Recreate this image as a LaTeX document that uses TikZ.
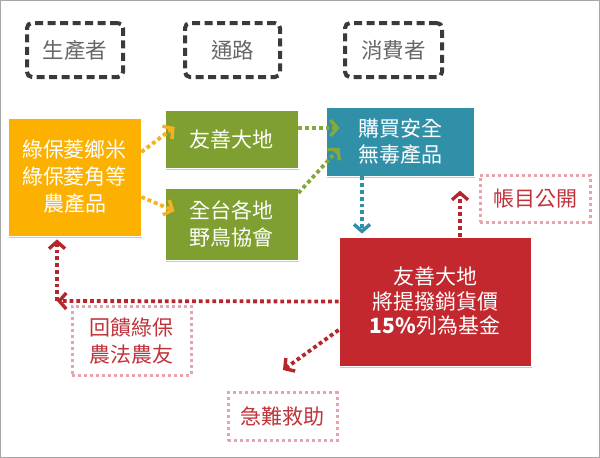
\documentclass[tikz,border=0pt]{standalone}
\usepackage{fontspec}
\setmainfont{Noto Sans CJK TC}
\usetikzlibrary{arrows.meta,shadows,calc}
\definecolor{orangebox}{HTML}{FCB000}
\definecolor{greenbox}{HTML}{7FA031}
\definecolor{bluebox}{HTML}{3090A8}
\definecolor{redbox}{HTML}{C2282E}
\definecolor{pinkline}{HTML}{E8A3AC}
\definecolor{pinktext}{HTML}{C0333A}
\definecolor{redarrow}{HTML}{B5272D}
\definecolor{headline}{HTML}{3A3A3A}
\definecolor{headtext}{HTML}{666666}
\definecolor{orangearrow}{HTML}{F5B120}
\definecolor{greenarrow}{HTML}{86A83A}
\definecolor{bluearrow}{HTML}{3090A8}
\begin{document}
\begin{tikzpicture}[x=1pt,y=-1pt,
  header/.style={draw=headline,line width=4pt,dash pattern=on 8pt off 4.5pt,rounded corners=5pt,
    text=headtext,font=\fontsize{21.5}{25}\selectfont,inner sep=0pt},
  solidbox/.style={draw=white,line width=0.8pt,text=white,align=center,inner sep=0pt,
    drop shadow={shadow xshift=1pt,shadow yshift=-1.5pt,opacity=0.35,fill=black!60}},
  pinkbox/.style={draw=pinkline,line width=3pt,dash pattern=on 3pt off 3pt,text=pinktext,
    align=center,inner sep=0pt,font=\fontsize{21}{27}\selectfont},
  dotarrow/.style={line width=3.8pt,dash pattern=on 3.8pt off 3pt,
    -{Straight Barb[length=7pt,width=16pt,line width=3.4pt]}},
]
\useasboundingbox (0,0) rectangle (600,458);
\draw[gray!70,line width=1pt] (0.5,0.5) rectangle (599.5,457.5);

% headers
\node[header,minimum width=96pt,minimum height=54pt] (h1) at (75,50) {生產者};
\node[header,minimum width=95pt,minimum height=54pt] (h2) at (232.5,50) {通路};
\node[header,minimum width=97pt,minimum height=54pt] (h3) at (393.5,50) {消費者};

% solid boxes
\node[solidbox,fill=orangebox,minimum width=133pt,minimum height=118pt,
  font=\fontsize{21}{27}\selectfont] (orange) at (74.5,177) {綠保菱鄉米\\綠保菱角等\\農產品};
\node[solidbox,fill=greenbox,minimum width=133pt,minimum height=58pt,
  font=\fontsize{21}{27}\selectfont] (g1) at (231.5,139) {友善大地};
\node[solidbox,fill=greenbox,minimum width=133pt,minimum height=72pt,
  font=\fontsize{21}{27}\selectfont] (g2) at (231.5,224) {全台各地\\野鳥協會};
\node[solidbox,fill=bluebox,minimum width=148pt,minimum height=69pt,
  font=\fontsize{21}{26}\selectfont] (blue) at (400,141.5) {購買安全\\無毒產品};
\node[solidbox,fill=redbox,minimum width=192pt,minimum height=129pt,
  font=\fontsize{21}{24.5}\selectfont] (red) at (435,301.5) {友善大地\\將提撥銷貨價\\\textbf{15\%}列為基金};

% pink dotted boxes
\node[pinkbox,minimum width=110pt,minimum height=47pt] (p1) at (535,198.5) {帳目公開};
\node[pinkbox,minimum width=119pt,minimum height=69pt] (p2) at (131.5,340.5) {回饋綠保\\農法農友};
\node[pinkbox,minimum width=109pt,minimum height=48pt] (p3) at (282.5,416.5) {急難救助};

% arrows
\draw[dotarrow,orangearrow] ([yshift=25pt]orange.east) -- ([xshift=10pt,yshift=12pt]g1.west);
\draw[dotarrow,orangearrow] ([yshift=-20pt]orange.east) -- ([xshift=10pt,yshift=13pt]g2.west);
\draw[dotarrow,greenarrow] ([yshift=11pt]g1.east) -- ([xshift=14pt,yshift=13.5pt]blue.west);
\draw[dotarrow,greenarrow] ([yshift=31pt]g2.east) -- ([xshift=14pt,yshift=-6.5pt]blue.west);
\draw[dotarrow,bluearrow] ([xshift=-38pt]blue.south) -- ([xshift=-73pt,yshift=3pt]red.north);
\draw[dotarrow,redarrow] ([xshift=25pt]red.north) -- ([xshift=25pt,yshift=46pt]red.north);
\coordinate (corner) at (57,301);
\coordinate (helpend) at (283,370);
\draw[dotarrow,redarrow] (red.west) -- (corner);
\draw[dotarrow,redarrow] (corner) -- ([xshift=-17.5pt,yshift=-3pt]orange.south);
\draw[dotarrow,redarrow] ([yshift=-28.5pt]red.west) -- (helpend);
\end{tikzpicture}
\end{document}
